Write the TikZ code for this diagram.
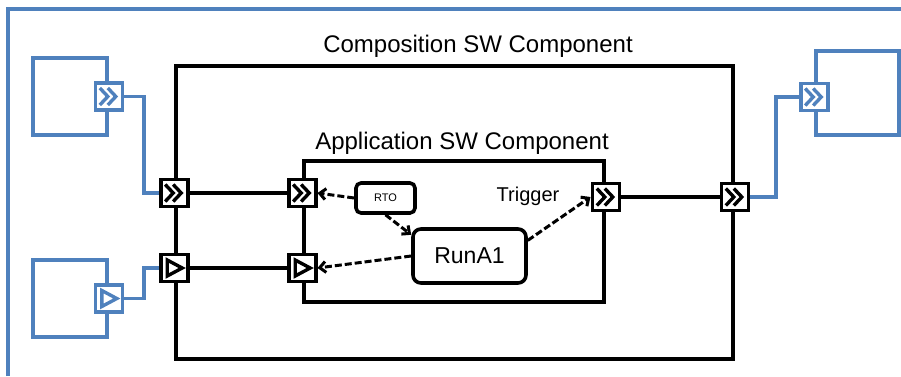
\documentclass[tikz,border=0pt]{standalone}
\usepackage{fontspec}
\setmainfont{Liberation Sans}
\usetikzlibrary{positioning,calc,arrows.meta,fit}

\definecolor{swblue}{RGB}{79,129,189}

\tikzset{
    port/.style={
        rectangle,
        draw=black,
        fill=white,
        line width=3.6pt,
        minimum size=27pt,
        inner sep=0pt,
    },
    blueport/.style={
        port,
        draw=swblue,
    },
    queued/.style={
        path picture={
            \draw[#1,line width=3.4pt,shift={(path picture bounding box.center)}]
                (-9,-8.5) -- (-1,0) -- (-9,8.5)
                (-1,-8.5) -- (7,0) -- (-1,8.5);
        }
    },
    queued/.default=black,
    unqueued/.style={
        path picture={
            \draw[#1,line width=3.4pt,shift={(path picture bounding box.center)}]
                (-7,-8) -- (8,0) -- (-7,8) -- cycle;
        }
    },
    unqueued/.default=black,
    swc/.style={
        rectangle,
        draw=black,
        line width=3.6pt,
        inner sep=0pt,
    },
    extswc/.style={
        rectangle,
        draw=swblue,
        line width=3.6pt,
        inner sep=0pt,
    },
    runnable/.style={
        rectangle,
        rounded corners=8pt,
        draw=black,
        line width=3.6pt,
        fill=white,
    },
    wire/.style={
        line width=3.6pt,
    },
    bluewire/.style={
        draw=swblue,
        line width=3.6pt,
    },
    dep/.style={
        line width=3pt,
        dash pattern=on 7pt off 3pt,
        -{Straight Barb[length=6pt,width=11pt]},
    },
    title/.style={
        font=\fontsize{24}{27}\selectfont,
    },
}

\begin{document}
\begin{tikzpicture}[x=1pt,y=-1pt]
        \useasboundingbox (0,0) rectangle (901,376);
        % frame
        \draw[bluewire] (8,376) -- (8,9) -- (901,9);
        % composition and application
        \node[swc,minimum width=557,minimum height=293](comp) at (454.5,212.5) {};
        \node[title](comptitle) at (478,46) {Composition SW Component};
        \node[swc,minimum width=300,minimum height=141](app) at (454,231.5) {};
        \node[title](apptitle) at (462,143) {Application SW Component};
        \node[port,queued](cp1) at (comp.west |- 0,193) {};
        \node[port,unqueued](cp2) at (comp.west |- 0,268) {};
        \node[port,queued](ap1) at (app.west |- cp1) {};
        \node[port,unqueued](ap2) at (app.west |- cp2) {};
        \node[port,queued](tp) at (app.east |- 0,197) {};
        \node[port,queued](cp3) at (comp.east |- tp) {};
        \node[font=\fontsize{20}{22}\selectfont](trig) at (528,196) {Trigger};
        \node[runnable,rounded corners=5pt,minimum width=59,minimum height=30,font=\fontsize{11}{12}\selectfont](rto) at (385.5,198) {RTO};
        \node[runnable,minimum width=113,minimum height=54,font=\fontsize{23}{26}\selectfont](runa) at (469.5,256) {RunA1};
        \draw[wire] (cp1.east) -- (ap1.west);
        \draw[wire] (cp2.east) -- (ap2.west);
        \draw[wire] (tp.east) -- (cp3.west);
        \draw[dep] (rto.west) -- (ap1.east);
        \draw[dep] (rto.south) -- (runa.160);
        \draw[dep] (runa.west) -- (ap2.east);
        \draw[dep] (runa.15) -- (tp.west);
        % outside components
        \node[extswc,minimum width=74,minimum height=77](ext1) at (70,96.5) {};
        \node[blueport,queued=swblue](ep1) at (ext1.east) {};
        \node[extswc,minimum width=74,minimum height=77](ext2) at (70,298.5) {};
        \node[blueport,unqueued=swblue](ep2) at (ext2.east) {};
        \node[extswc,minimum width=83,minimum height=84](ext3) at (857.5,93) {};
        \node[blueport,queued=swblue,yshift=-4pt](ep3) at (ext3.west) {};
        \draw[bluewire] (ep1.east) -- ++(20,0) |- (cp1.west);
        \draw[bluewire] (ep2.east) -- ++(20,0) |- (cp2.west);
        \draw[bluewire] (cp3.east) -- ++(26,0) |- (ep3.west);
    \end{tikzpicture}
\end{document}
